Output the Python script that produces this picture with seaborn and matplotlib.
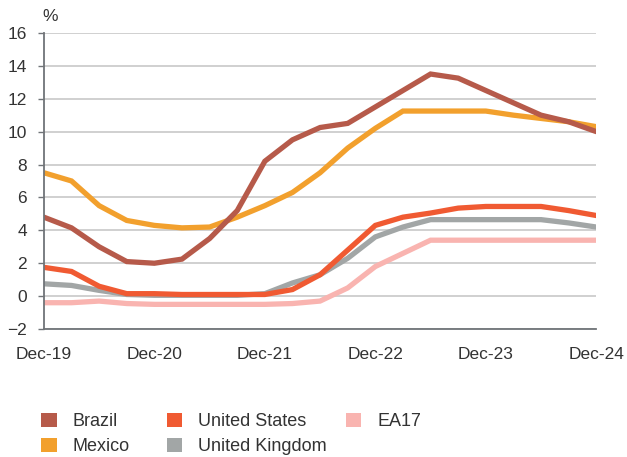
import pandas as pd
import seaborn as sns
import matplotlib.pyplot as plt
from matplotlib.patches import Patch

quarters = ["Dec-19", "Mar-20", "Jun-20", "Sep-20", "Dec-20", "Mar-21", "Jun-21",
            "Sep-21", "Dec-21", "Mar-22", "Jun-22", "Sep-22", "Dec-22", "Mar-23",
            "Jun-23", "Sep-23", "Dec-23", "Mar-24", "Jun-24", "Sep-24", "Dec-24"]

brazil = [4.8, 4.15, 3.0, 2.1, 2.0, 2.25, 3.5, 5.2, 8.2, 9.5, 10.25, 10.5, 11.5,
          12.5, 13.5, 13.25, 12.5, 11.75, 11.0, 10.6, 10.0]
mexico = [7.5, 7.0, 5.5, 4.6, 4.3, 4.15, 4.2, 4.8, 5.5, 6.3, 7.5, 9.0, 10.2,
          11.25, 11.25, 11.25, 11.25, 11.0, 10.8, 10.6, 10.3]
us = [1.75, 1.5, 0.6, 0.15, 0.15, 0.1, 0.1, 0.1, 0.1, 0.4, 1.3, 2.8, 4.3,
      4.8, 5.05, 5.35, 5.45, 5.45, 5.45, 5.2, 4.9]
uk = [0.75, 0.65, 0.35, 0.1, 0.05, 0.05, 0.05, 0.05, 0.15, 0.8, 1.3, 2.3, 3.6,
      4.2, 4.65, 4.65, 4.65, 4.65, 4.65, 4.45, 4.2]
ea17 = [-0.4, -0.4, -0.3, -0.45, -0.5, -0.5, -0.5, -0.5, -0.5, -0.45, -0.3, 0.5, 1.8,
        2.6, 3.4, 3.4, 3.4, 3.4, 3.4, 3.4, 3.4]

series = {"Brazil": brazil, "Mexico": mexico, "United States": us,
          "United Kingdom": uk, "EA17": ea17}
colors = {"Brazil": "#B65A4A", "Mexico": "#F2A02D", "United States": "#F05A32",
          "United Kingdom": "#A2A6A6", "EA17": "#F9B4B0"}
draw_order = ["EA17", "United Kingdom", "United States", "Mexico", "Brazil"]
legend_cols = [["Brazil", "Mexico"], ["United States", "United Kingdom"], ["EA17"]]

year_ticks = ["Dec-19", "Dec-20", "Dec-21", "Dec-22", "Dec-23", "Dec-24"]

rows = []
for name, vals in series.items():
    for i, v in enumerate(vals):
        rows.append({"q": i, "rate": v, "country": name})
df = pd.DataFrame(rows)

sns.set_style("white")
plt.rcParams["font.family"] = ["Liberation Sans", "DejaVu Sans"]

fig = plt.figure(figsize=(6.27, 4.57), dpi=100)
ax = fig.add_axes([0.070, 0.280, 0.881, 0.648])

for name in draw_order:
    sns.lineplot(data=df[df.country == name], x="q", y="rate", color=colors[name],
                 linewidth=3.8, ax=ax, legend=False, solid_joinstyle="miter")

ax.set_xlim(0, len(quarters) - 1)
ax.set_ylim(-2, 16)
ax.set_yticks(range(-2, 17, 2))
ax.set_xticks([quarters.index(t) for t in year_ticks])
ax.set_xticklabels(year_ticks)
ax.set_xlabel("")
ax.set_ylabel("")

ax.grid(axis="y", color="#C8C8C8", linewidth=1.2)
ax.set_axisbelow(True)
for s in ["top", "right"]:
    ax.spines[s].set_visible(False)
for s in ["left", "bottom"]:
    ax.spines[s].set_color("#707478")
    ax.spines[s].set_linewidth(1.3)

ax.tick_params(axis="x", direction="in", length=5, color="#707478", width=1,
               labelsize=12.5, labelcolor="#333333", pad=13)
ax.tick_params(axis="y", direction="out", length=4, color="#707478", width=1,
               labelsize=12.5, labelcolor="#333333", pad=8, left=True)

fig.text(0.068, 0.963, "%", fontsize=12.5, color="#333333", va="center")

col_x = [0.066, 0.266, 0.552]
for cx, names in zip(col_x, legend_cols):
    handles = [Patch(facecolor=colors[n], edgecolor="none") for n in names]
    fig.legend(handles, names, ncol=1, loc="upper left",
               bbox_to_anchor=(cx, 0.097), frameon=False, fontsize=13,
               handlelength=0.85, handleheight=0.85, handletextpad=0.9,
               labelspacing=0.42, labelcolor="#333333", borderpad=0,
               borderaxespad=0)

fig.savefig("out.png", dpi=100)
